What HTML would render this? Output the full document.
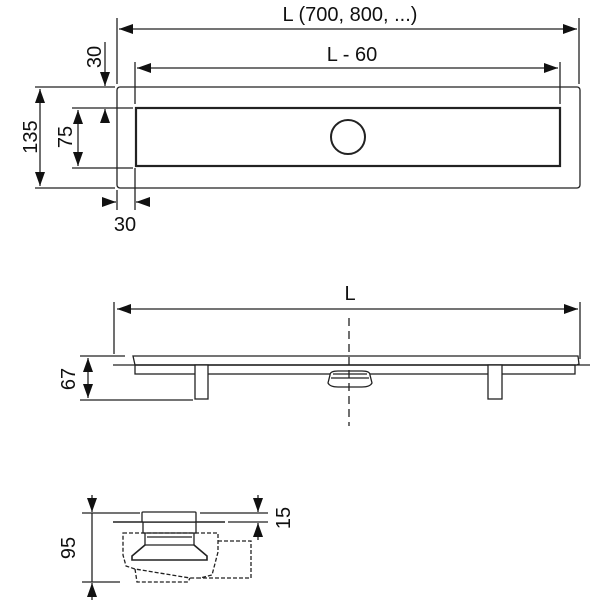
<!DOCTYPE html>
<html><head><style>body{margin:0;background:#fff}svg{display:block}text{font-family:"Liberation Sans",sans-serif;fill:#111}</style></head><body>
<svg width="600" height="600" viewBox="0 0 600 600" xmlns="http://www.w3.org/2000/svg">
<defs>
<marker id="a" viewBox="0 0 14 10" refX="14" refY="5" markerWidth="14" markerHeight="10" markerUnits="userSpaceOnUse" orient="auto-start-reverse"><path d="M0,0L14,5L0,10z" fill="#111"/></marker>
</defs>
<g stroke="#222" stroke-width="1.3" fill="none">
<rect x="117" y="87" width="463" height="101" rx="3"/>
<rect x="136" y="108" width="424" height="58" stroke-width="2.2"/>
<circle cx="348" cy="137" r="17" stroke-width="2"/>
<line x1="117" y1="18" x2="117" y2="84"/><line x1="579" y1="18" x2="579" y2="84"/>
<line x1="119" y1="29" x2="577" y2="29" marker-start="url(#a)" marker-end="url(#a)"/>
<line x1="135" y1="62" x2="135" y2="104"/><line x1="560" y1="62" x2="560" y2="104"/>
<line x1="137" y1="68" x2="558" y2="68" marker-start="url(#a)" marker-end="url(#a)"/>
<line x1="35" y1="87" x2="115" y2="87"/><line x1="35" y1="188" x2="115" y2="188"/>
<line x1="40" y1="89" x2="40" y2="186" marker-start="url(#a)" marker-end="url(#a)"/>
<line x1="72" y1="108" x2="133" y2="108"/><line x1="72" y1="168" x2="133" y2="168"/>
<line x1="78" y1="110" x2="78" y2="166" marker-start="url(#a)" marker-end="url(#a)"/>
<line x1="105" y1="42" x2="105" y2="86" marker-end="url(#a)"/>
<line x1="105" y1="122" x2="105" y2="109" marker-end="url(#a)"/>
<line x1="117" y1="190" x2="117" y2="210"/><line x1="135" y1="168" x2="135" y2="210"/>
<line x1="103" y1="202" x2="116" y2="202" marker-end="url(#a)"/>
<line x1="149" y1="202" x2="136" y2="202" marker-end="url(#a)"/>
<line x1="114" y1="302" x2="114" y2="354"/><line x1="580" y1="302" x2="580" y2="359"/>
<line x1="117" y1="309" x2="578" y2="309" marker-start="url(#a)" marker-end="url(#a)"/>
<path d="M133,356 L578,356 L579,364 L577,365 L135,365 Z"/>
<rect x="135" y="365" width="440" height="9"/>
<line x1="113" y1="365" x2="590" y2="365"/>
<rect x="195" y="365" width="13" height="34" fill="#fff"/>
<rect x="488" y="365" width="14" height="34" fill="#fff"/>
<path d="M330,375 Q330,371 338,371 L362,371 Q370,371 370,375 L372,383 Q370,387 362,387 L338,387 Q330,387 328,383 Z" fill="#fff" stroke-width="1.3"/>
<line x1="331" y1="378" x2="369" y2="378"/><line x1="333" y1="374" x2="367" y2="374"/>
<line x1="349" y1="318" x2="349" y2="426" stroke-dasharray="8,5"/>
<line x1="80" y1="356" x2="125" y2="356"/><line x1="80" y1="400" x2="193" y2="400"/>
<line x1="88" y1="358" x2="88" y2="398" marker-start="url(#a)" marker-end="url(#a)"/>
<line x1="82" y1="513" x2="140" y2="513"/><line x1="82" y1="582" x2="120" y2="582"/>
<line x1="92" y1="495" x2="92" y2="512" marker-end="url(#a)"/>
<line x1="92" y1="513" x2="92" y2="582"/>
<line x1="92" y1="600" x2="92" y2="583" marker-end="url(#a)"/>
<line x1="200" y1="513" x2="268" y2="513"/><line x1="228" y1="522" x2="268" y2="522"/>
<line x1="258" y1="495" x2="258" y2="512" marker-end="url(#a)"/>
<line x1="258" y1="540" x2="258" y2="523" marker-end="url(#a)"/>
<line x1="113" y1="522" x2="225" y2="522" stroke-width="1.6"/>
<rect x="142" y="512" width="54" height="10" rx="1" fill="#fff"/>
<path d="M143,522 L143,533 L196,533 L196,522"/>
<path d="M145,533 L145,545 L194,545 L194,533"/>
<line x1="147" y1="537" x2="192" y2="537"/>
<path d="M145,545 L132,556 L132,560 L207,560 L207,556 L194,545" stroke-width="1.6"/>
<path d="M123,533 L218,533 L218,552 L212,575 L200,578 L190,578 L135,569 L126,566 L123,555 Z" stroke-dasharray="4,2"/>
<path d="M135,569 L137,582 L188,582 L190,578" stroke-dasharray="4,2"/>
<path d="M218,541 L251,541 L251,578 L200,578" stroke-dasharray="4,2"/>
</g>
<g font-size="20">
<text x="350" y="21" text-anchor="middle">L (700, 800, ...)</text>
<text x="352" y="61" text-anchor="middle">L - 60</text>
<text x="125" y="231" text-anchor="middle">30</text>
<text x="350" y="300" text-anchor="middle">L</text>
<text transform="translate(37,137) rotate(-90)" text-anchor="middle">135</text>
<text transform="translate(72,137) rotate(-90)" text-anchor="middle">75</text>
<text transform="translate(101,57) rotate(-90)" text-anchor="middle">30</text>
<text transform="translate(75,379) rotate(-90)" text-anchor="middle">67</text>
<text transform="translate(75,548) rotate(-90)" text-anchor="middle">95</text>
<text transform="translate(290,518) rotate(-90)" text-anchor="middle">15</text>
</g>
</svg>
</body></html>
